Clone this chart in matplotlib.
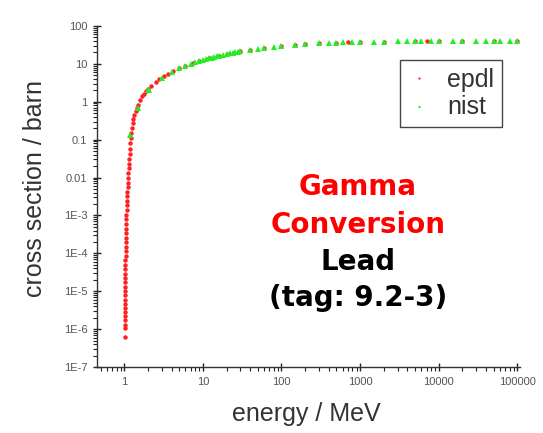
import matplotlib.pyplot as plt
from matplotlib.ticker import LogLocator, FixedLocator, FixedFormatter, NullFormatter

# EPDL gamma conversion cross section for lead (barn vs MeV)
epdl_e = [1.0225, 1.0228, 1.023, 1.0233, 1.0236, 1.024, 1.0245, 1.025, 1.0256, 1.0262,
          1.027, 1.0278, 1.0287, 1.0297, 1.031, 1.0323, 1.034, 1.036, 1.038, 1.040,
          1.043, 1.046, 1.049, 1.052, 1.056, 1.060, 1.064, 1.068, 1.073, 1.078,
          1.084, 1.090, 1.096, 1.103, 1.110, 1.118, 1.126, 1.135, 1.145, 1.155,
          1.167, 1.18, 1.195, 1.21, 1.23, 1.25, 1.28, 1.31, 1.35, 1.4,
          1.45, 1.5, 1.6, 1.7, 1.8, 1.9, 2.0, 2.2, 2.5, 2.8,
          3.2, 3.6, 4.2, 5.0, 6.0, 7.5, 9.0, 12, 16, 20,
          30, 40, 60, 100, 150, 200, 300, 500, 700, 1000,
          2000, 5000, 7000, 1e4, 2e4, 5e4, 1e5]
epdl_sigma = [6.3e-7, 1.1e-6, 1.3e-6, 1.7e-6, 2.2e-6, 2.8e-6, 3.6e-6, 4.6e-6, 6e-6, 7.8e-6,
              1.0e-5, 1.3e-5, 1.7e-5, 2.2e-5, 2.9e-5, 3.8e-5, 5e-5, 6.6e-5, 8.7e-5, 1.15e-4,
              1.5e-4, 2.0e-4, 2.6e-4, 3.4e-4, 4.5e-4, 6e-4, 8e-4, 1.05e-3, 1.4e-3, 1.85e-3,
              2.4e-3, 3.2e-3, 4.2e-3, 5.6e-3, 7.4e-3, 9.8e-3, 1.3e-2, 1.75e-2, 2.3e-2, 3.1e-2,
              4.2e-2, 5.8e-2, 8e-2, 0.11, 0.15, 0.2, 0.27, 0.35, 0.45, 0.57,
              0.7, 0.83, 1.1, 1.4, 1.65, 1.9, 2.15, 2.6, 3.3, 3.9,
              4.7, 5.4, 6.4, 7.6, 8.9, 10.5, 11.9, 14.2, 16.4, 18.2,
              21.4, 23.6, 26.4, 29.8, 32.0, 33.4, 35.0, 36.6, 37.3, 38.0,
              38.7, 39.3, 39.4, 39.6, 39.7, 39.8, 39.9]

# NIST (XCOM) values
nist_e = [1.2, 1.5, 2, 2.044, 3, 4, 5, 6, 7, 8, 9, 10, 11, 12, 13, 14, 15, 16, 18, 20,
          22, 24, 26, 28, 30, 40, 50, 60, 80, 100, 150, 200, 300, 400, 500, 600, 800,
          1000, 1500, 2000, 3000, 4000, 5000, 6000, 8000, 10000, 15000, 20000, 30000,
          40000, 50000, 60000, 80000, 100000]
nist_sigma = [0.13, 0.68, 2.0, 2.1, 4.3, 6.1, 7.6, 8.9, 10.0, 11.0, 11.9, 12.7, 13.4, 14.1,
              14.7, 15.3, 15.8, 16.3, 17.3, 18.1, 18.9, 19.6, 20.2, 20.8, 21.3, 23.5, 25.1,
              26.3, 28.2, 29.6, 31.9, 33.3, 35.0, 35.9, 36.5, 36.9, 37.5, 37.9, 38.4, 38.7,
              39.0, 39.2, 39.3, 39.4, 39.5, 39.6, 39.7, 39.7, 39.8, 39.8, 39.9, 39.9, 39.9, 39.9]

y_ticks = [1e-7, 1e-6, 1e-5, 1e-4, 1e-3, 0.01, 0.1, 1, 10, 100]
y_labels = ['1E-7', '1E-6', '1E-5', '1E-4', '1E-3', '0.01', '0.1', '1', '10', '100']
x_ticks = [1, 10, 100, 1000, 10000, 100000]
x_labels = ['1', '10', '100', '1000', '10000', '100000']

fig = plt.figure(figsize=(5.43, 4.33), dpi=100)
ax = fig.add_axes([0.1786, 0.1524, 0.779, 0.7876])

ax.plot(epdl_e, epdl_sigma, 'o', color='#ff2020', markersize=3.2, markeredgewidth=0, label='epdl')
ax.plot(nist_e, nist_sigma, '^', color='#22ee22', markersize=4.2, markeredgewidth=0, label='nist')

ax.set_xscale('log')
ax.set_yscale('log')
ax.set_xlim(0.45, 1.08e5)
ax.set_ylim(1e-7, 100)

ax.yaxis.set_major_locator(FixedLocator(y_ticks))
ax.yaxis.set_major_formatter(FixedFormatter(y_labels))
ax.xaxis.set_major_locator(FixedLocator(x_ticks))
ax.xaxis.set_major_formatter(FixedFormatter(x_labels))
ax.xaxis.set_minor_locator(LogLocator(base=10, subs=range(2, 10), numticks=20))
ax.yaxis.set_minor_locator(LogLocator(base=10, subs=range(2, 10), numticks=20))
ax.xaxis.set_minor_formatter(NullFormatter())
ax.yaxis.set_minor_formatter(NullFormatter())

for s in ['top', 'right']:
    ax.spines[s].set_visible(False)
for s in ['left', 'bottom']:
    ax.spines[s].set_color('#333333')
    ax.spines[s].set_linewidth(1.0)

ax.tick_params(which='major', direction='inout', length=6, width=1, color='#222222',
               labelsize=8, labelcolor='#555555', pad=4)
ax.tick_params(which='minor', direction='out', length=3, width=0.8, color='#222222')
for lab in ax.get_xticklabels() + ax.get_yticklabels():
    lab.set_family('Liberation Sans')

fig.text(0.065, 0.565, 'cross section / barn', rotation=90, ha='center', va='center',
         fontsize=18, color='#333333', family='Liberation Sans')
fig.text(0.565, 0.045, 'energy / MeV', ha='center', va='center',
         fontsize=18, color='#333333', family='Liberation Sans')

title_kw = dict(ha='center', va='baseline', fontsize=20, fontweight='bold', family='DejaVu Sans')
fig.text(358 / 543, 1 - 195 / 433, 'Gamma', color='#ff0000', **title_kw)
fig.text(358 / 543, 1 - 233 / 433, 'Conversion', color='#ff0000', **title_kw)
fig.text(358 / 543, 1 - 270 / 433, 'Lead', color='black', **title_kw)
fig.text(358 / 543, 1 - 306 / 433, '(tag: 9.2-3)', color='black', **title_kw)

leg = ax.legend(loc='upper left', bbox_to_anchor=(400 / 543, 1 - 60 / 433),
                bbox_transform=fig.transFigure, fancybox=False, framealpha=1,
                edgecolor='#444444', markerscale=0.5, handlelength=0.9,
                prop={'family': 'Liberation Sans', 'size': 18}, labelspacing=0.15,
                borderpad=0.3, handletextpad=0.7, borderaxespad=0)
for t in leg.get_texts():
    t.set_color('#333333')

fig.savefig('out.png', dpi=100)
